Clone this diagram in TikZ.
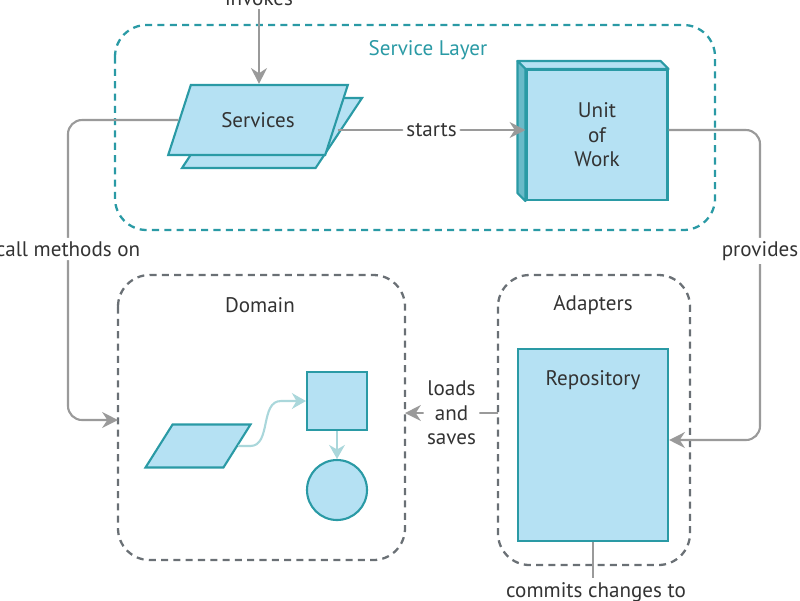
\documentclass[tikz,border=0pt]{standalone}
\usepackage{fontspec}
\setmainfont{PT Sans}
\usetikzlibrary{shapes.geometric, arrows.meta, calc, positioning}
\definecolor{tealline}{HTML}{2A9AA5}
\definecolor{boxfill}{HTML}{B5E1F3}
\definecolor{arrgray}{HTML}{9A9A9A}
\definecolor{boxgray}{HTML}{6A7075}
\definecolor{txt}{HTML}{333333}
\tikzset{
    layer/.style = {draw=#1, dashed, line width=1.3pt, rounded corners=18pt, dash pattern=on 4pt off 3pt},
    para/.style = {trapezium, trapezium left angle=62, trapezium right angle=118, trapezium stretches=true,
        draw=tealline, fill=boxfill, line width=1.2pt, text=txt, font=\large},
    blok/.style = {draw=tealline, fill=boxfill, line width=1.2pt, text=txt, font=\large},
    flow/.style = {draw=arrgray, line width=1.2pt, -{Stealth[length=9pt,width=9pt]}, rounded corners=8pt},
    lbl/.style = {fill=white, text=txt, font=\large, inner sep=2pt, align=center},
}
\begin{document}
\begin{tikzpicture}[x=0.02cm, y=-0.02cm]
\useasboundingbox (0,0) rectangle (800,600);

% service layer
\draw[layer=tealline] (115,25) rectangle (715,230);
\node[text=tealline, font=\large] (sl) at (428,50) {Service Layer};

\node[para, minimum width=3.6cm, minimum height=1.4cm] (svcback) at (272,133) {};
\node[para, minimum width=3.6cm, minimum height=1.4cm] (svc) at (258,120) {Services};
\node[lbl, fill=none] (inv) at (259,-2) {invokes};
\draw[flow] (inv) -- (svc.north -| inv);

% unit of work with depth
\node[blok, minimum width=2.82cm, minimum height=2.6cm, align=center] (uow) at (597,135) {Unit\\of\\Work};
\draw[draw=tealline, fill=boxfill, line width=1.2pt, line join=round]
    (uow.north west) -- ++(-8,-8) -- ($(uow.north east)+(-8,-8)$) -- (uow.north east) -- cycle;
\draw[draw=tealline, fill=tealline!55!boxfill, line width=1.2pt, line join=round]
    (uow.north west) -- ++(-8,-8) -- ($(uow.south west)+(-8,-8)$) -- (uow.south west) -- cycle;
\draw[flow] (svc.east |- 0,130) -- node[lbl] {starts} (uow.west |- 0,130);

% domain
\draw[layer=boxgray] (118,275) rectangle (405,560);
\node[text=txt, font=\large] (dom) at (260,305) {Domain};
\node[para, minimum width=2.1cm, minimum height=0.86cm] (ent) at (198,446) {};
\node[blok, minimum width=1.2cm, minimum height=1.16cm] (sq) at (337,401) {};
\node[blok, circle, minimum size=1.2cm] (circ) at (337,490) {};
\draw[draw=tealline!40, line width=1.2pt, -{Stealth[length=8pt,width=9pt]}]
    (ent.east) -- ++(12,0) to[out=0, in=180] ($(sq.west)+(-25,0)$) -- (sq.west);
\draw[draw=tealline!40, line width=1.2pt, -{Stealth[length=8pt,width=9pt]}] (sq) -- (circ);

% adapters
\draw[layer=boxgray] (498,275) rectangle (690,565);
\node[text=txt, font=\large] (adp) at (593,305) {Adapters};
\node[blok, minimum width=3cm, minimum height=3.84cm, anchor=north] (repo) at (593,348) {};
\node[text=txt, font=\large] (repolbl) at (593,380) {Repository};

% connectors
\draw[flow] (svc.west |- 0,120) -- (68,120) -- node[lbl, pos=0.43] {call methods on} (68,420) -- (118,420);
\draw[flow] (uow.east |- 0,130) -- (760,130) -- node[lbl, pos=0.39] {provides} (760,440) -- (repo.east |- 0,440);
\draw[flow] (498,413) -- node[lbl, pos=0.5] {loads\\and\\saves} (405,413);
\node[lbl, fill=none] (cmt) at (596,592) {commits changes to};
\draw[draw=arrgray, line width=1.2pt] (repo.south) -- (cmt.north -| repo.south);
\end{tikzpicture}
\end{document}
